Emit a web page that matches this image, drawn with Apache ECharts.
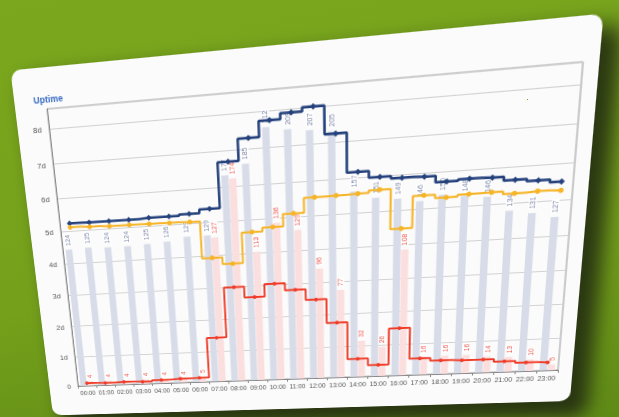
<!DOCTYPE html>
<html>
<head>
<meta charset="utf-8">
<script src="https://cdn.jsdelivr.net/npm/echarts@6/dist/echarts.min.js"></script>
<style>
  html, body { margin: 0; padding: 0; width: 619px; height: 417px; overflow: hidden; }
  body { background: linear-gradient(170deg, #7aa71d 0%, #74a01b 60%, #5f8a16 100%); position: relative; }
  #card {
    position: absolute; left: 0; top: 0;
    width: 552px; height: 366px;
    background: #fbfbfb; border-radius: 10px;
    transform-origin: 0 0;
    box-shadow: 14px 14px 18px 4px rgba(36, 46, 16, 0.92);
  }
  #myChart { width: 552px; height: 366px; }
</style>
</head>
<body>
<div id="card"><div id="myChart"></div></div>
<script>
  // categories
  let hours = ['00:00', '01:00', '02:00', '03:00', '04:00', '05:00', '06:00', '07:00',
    '08:00', '09:00', '10:00', '11:00', '12:00', '13:00', '14:00', '15:00',
    '16:00', '17:00', '18:00', '19:00', '20:00', '21:00', '22:00', '23:00'];
  // grey bars (right hidden axis, 0..240)
  let totalBars = [124, 125, 124, 124, 125, 126, 129, 129, 177, 185, 212, 209,
    207, 205, 157, 151, 149, 146, 150, 148, 146, 134, 131, 127];
  // pink bars (same hidden axis)
  let downBars = [4, 4, 4, 4, 4, 4, 5, 127, 174, 113, 136, 129,
    96, 77, 32, 26, 108, 16, 16, 16, 14, 13, 10, 5];
  // step lines, in days
  let maxLine = [5.23, 5.22, 5.22, 5.22, 5.24, 5.24, 5.28, 5.39, 6.70, 7.31, 7.75, 7.91,
    8.02, 7.25, 6.15, 5.97, 5.90, 5.89, 5.71, 5.75, 5.73, 5.63, 5.57, 5.50];
  let avgLine = [5.11, 5.09, 5.07, 5.07, 5.06, 5.05, 5.04, 3.93, 3.72, 4.63, 4.74, 5.10,
    5.52, 5.53, 5.54, 5.61, 4.47, 5.37, 5.27, 5.32, 5.33, 5.26, 5.28, 5.26];
  let minLine = [0.09, 0.07, 0.09, 0.07, 0.11, 0.13, 0.14, 1.43, 3.00, 2.66, 3.04, 2.82,
    2.49, 1.75, 0.58, 0.36, 1.49, 0.52, 0.43, 0.41, 0.41, 0.33, 0.27, 0.25];

  // the card is photographed at an angle: map the flat plot box onto the tilted one
  function homography(src, dst) {
    let A = [], b = [];
    for (let i = 0; i < 4; i++) {
      let x = src[i][0], y = src[i][1], u = dst[i][0], v = dst[i][1];
      A.push([x, y, 1, 0, 0, 0, -x * u, -y * u]); b.push(u);
      A.push([0, 0, 0, x, y, 1, -x * v, -y * v]); b.push(v);
    }
    for (let c = 0; c < 8; c++) {
      let p = c;
      for (let r = c + 1; r < 8; r++) if (Math.abs(A[r][c]) > Math.abs(A[p][c])) p = r;
      let t = A[c]; A[c] = A[p]; A[p] = t;
      let tb = b[c]; b[c] = b[p]; b[p] = tb;
      for (let r = 0; r < 8; r++) {
        if (r === c) continue;
        let f = A[r][c] / A[c][c];
        for (let k = c; k < 8; k++) A[r][k] -= f * A[c][k];
        b[r] -= f * b[c];
      }
    }
    return b.map((v, i) => v / A[i][i]);
  }
  let g = { left: 33, top: 39, right: 14, bottom: 34 };
  let W = 552, H = 366;
  let h = homography(
    [[g.left, g.top], [W - g.right, g.top], [W - g.right, H - g.bottom], [g.left, H - g.bottom]],
    [[47, 109], [583, 62], [558, 370], [78, 386]]
  );
  document.getElementById('card').style.transform =
    'matrix3d(' + [h[0], h[3], 0, h[6], h[1], h[4], 0, h[7], 0, 0, 1, 0, h[2], h[5], 0, 1].join(',') + ')';

  let myChart = echarts.init(document.getElementById('myChart'), null, { renderer: 'svg' });
  let font = 'Liberation Sans';
  let options = {
    animation: false,
    textStyle: { fontFamily: font },
    title: {
      text: 'Uptime', left: 15, top: 21,
      textStyle: { fontSize: 9, fontWeight: 'bold', color: '#3a6cc2', fontFamily: font }
    },
    grid: { left: g.left, top: g.top, right: g.right, bottom: g.bottom, show: true, borderColor: '#9c9c9c', borderWidth: 1 },
    xAxis: {
      type: 'category',
      data: hours,
      axisLine: { lineStyle: { color: '#888' } },
      axisTick: { show: true, length: 3, lineStyle: { color: '#888' } },
      axisLabel: { interval: 0, fontSize: 7, color: '#555', margin: 5 }
    },
    yAxis: [{
      type: 'value', min: 0, max: 8.57, interval: 1,
      axisLine: { show: true, lineStyle: { color: '#888' } },
      axisLabel: {
        fontSize: 8, color: '#555', margin: 8,
        formatter: function (v) { return Number.isInteger(v) ? (v === 0 ? '0' : v + 'd') : ''; }
      },
      splitLine: { lineStyle: { color: '#d2d2d2' } }
    }, {
      type: 'value', min: 0, max: 240, show: false, splitLine: { show: false }
    }],
    series: [
      {
        name: 'Total', type: 'bar', yAxisIndex: 1, data: totalBars,
        barWidth: '34%', barGap: '8%',
        itemStyle: { color: '#d7dce8' },
        label: {
          show: true, position: 'top', rotate: 90, align: 'left', verticalAlign: 'middle',
          distance: 3, fontSize: 7, color: '#7d89a8', backgroundColor: '#fff', padding: [0, 1]
        }
      },
      {
        name: 'Down', type: 'bar', yAxisIndex: 1, data: downBars,
        barWidth: '34%',
        itemStyle: { color: '#fbdede' },
        label: {
          show: true, position: 'top', rotate: 90, align: 'left', verticalAlign: 'middle',
          distance: 3, fontSize: 7, color: '#ee5a4e', backgroundColor: '#fff', padding: [0, 1]
        }
      },
      {
        name: 'Max', type: 'line', step: 'middle', data: maxLine,
        symbol: 'diamond', symbolSize: 6,
        lineStyle: { color: '#24417c', width: 2.5 }, itemStyle: { color: '#24417c' }
      },
      {
        name: 'Avg', type: 'line', step: 'middle', data: avgLine,
        symbol: 'circle', symbolSize: 5,
        lineStyle: { color: '#f6b426', width: 2 }, itemStyle: { color: '#f6b426' }
      },
      {
        name: 'Min', type: 'line', step: 'middle', data: minLine,
        symbol: 'circle', symbolSize: 4,
        lineStyle: { color: '#f03b27', width: 2 }, itemStyle: { color: '#f03b27' }
      }
    ]
  };
  myChart.setOption(options);
</script>
</body>
</html>
